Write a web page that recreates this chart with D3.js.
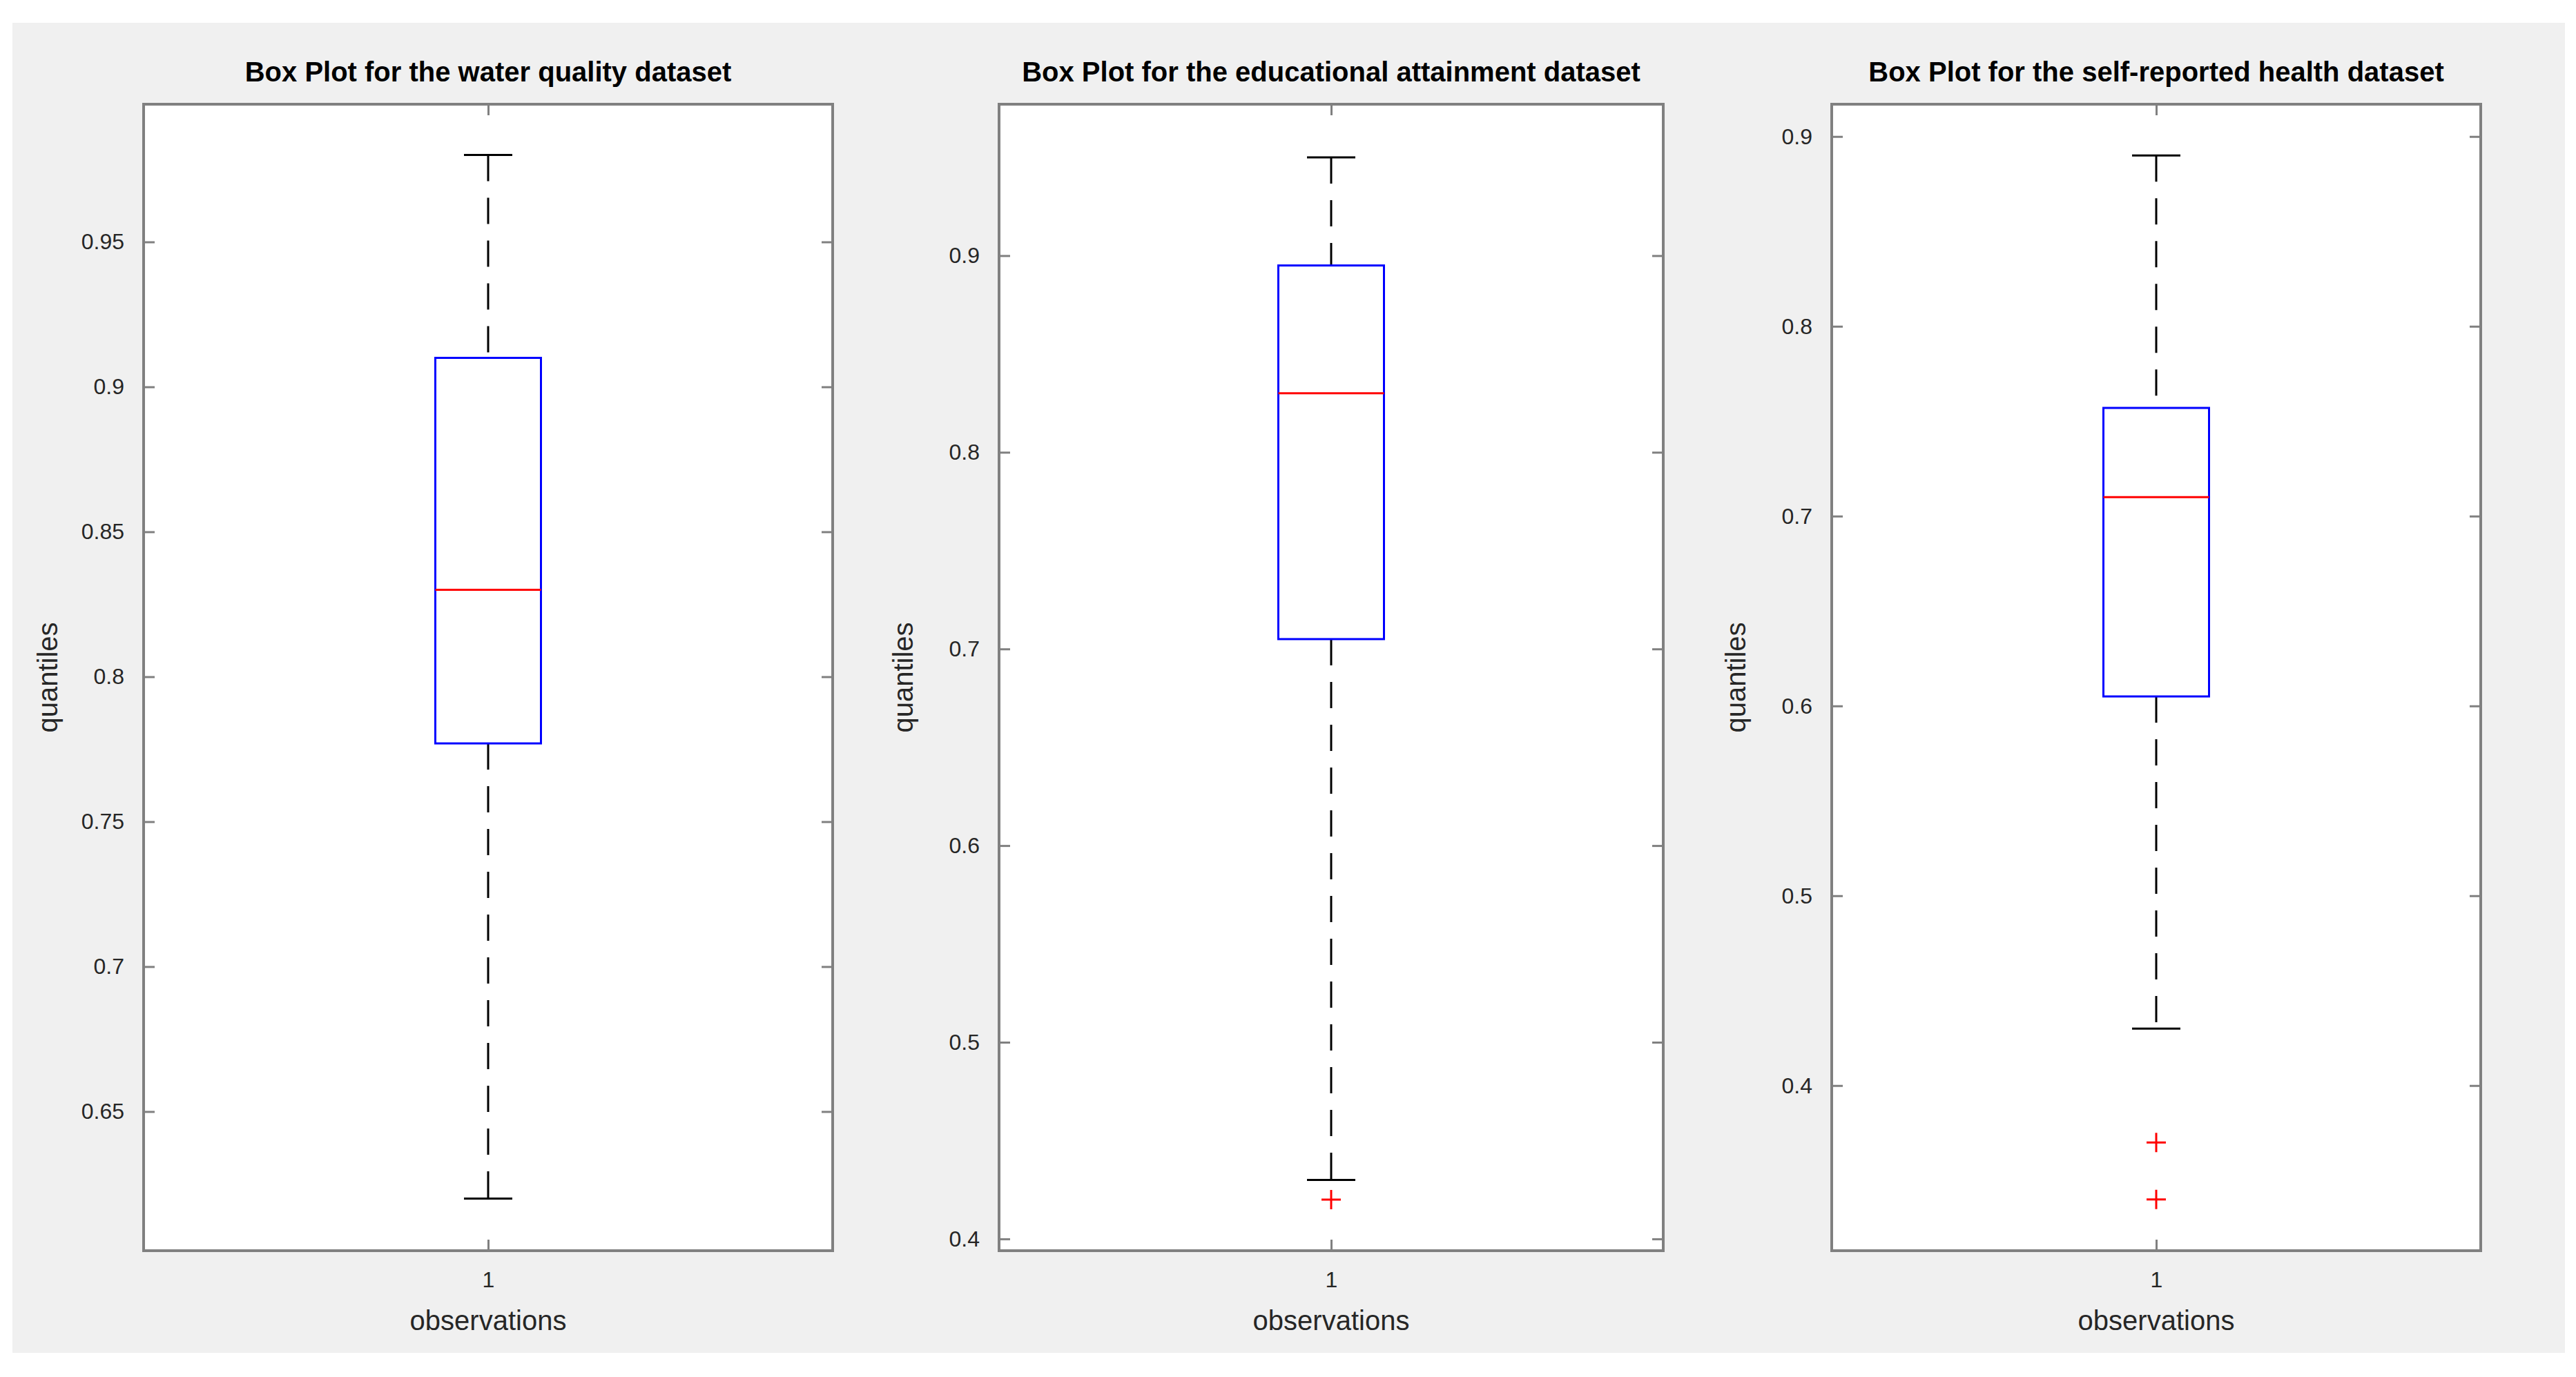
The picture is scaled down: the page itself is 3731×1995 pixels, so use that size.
<!DOCTYPE html><html><head><meta charset="utf-8"><script src="https://cdn.jsdelivr.net/npm/d3@7"></script>
<style>body{margin:0;background:#fff}svg{display:block}</style></head><body><svg id="c" width="3731" height="1995"></svg>
<script>
const titles=["Box Plot for the water quality dataset","Box Plot for the educational attainment dataset","Box Plot for the self-reported health dataset"];
const lowerWhisker=[0.62,0.43,0.43];
const q1=[0.777,0.705,0.605];
const median=[0.83,0.83,0.71];
const q3=[0.91,0.895,0.757];
const upperWhisker=[0.98,0.95,0.89];
const outliers=[[],[0.42],[0.37,0.34]];
const yDomains=[[0.602,0.9975],[0.394,0.977],[0.313,0.917]];
const yTicks=[[0.65,0.7,0.75,0.8,0.85,0.9,0.95],[0.4,0.5,0.6,0.7,0.8,0.9],[0.4,0.5,0.6,0.7,0.8,0.9]];
const xCats=["1"];
(function(){
const panels=[[208,1206],[1447,2409],[2653,3593]];
const yTop=151,yBot=1812;
const svg=d3.select("#c");
svg.append("rect").attr("x",18).attr("y",33).attr("width",3697).attr("height",1927).attr("fill","#f0f0f0");
const ax="#808080",font="'Liberation Sans',Arial,sans-serif";
panels.forEach((p,i)=>{
  const x=d3.scalePoint().domain(xCats).range(p).padding(0.5);
  const y=d3.scaleLinear().domain(yDomains[i]).range([yBot,yTop]);
  const g=svg.append("g");
  g.append("rect").attr("x",p[0]).attr("y",yTop).attr("width",p[1]-p[0]).attr("height",yBot-yTop).attr("fill","#fff");
  const fmt=d=>String(+d.toFixed(2));
  const la=g.append("g").attr("transform",`translate(${p[0]},0)`).call(d3.axisLeft(y).tickValues(yTicks[i]).tickSize(-16).tickPadding(28).tickFormat(fmt));
  const ra=g.append("g").attr("transform",`translate(${p[1]},0)`).call(d3.axisRight(y).tickValues(yTicks[i]).tickSize(-16).tickFormat(""));
  const ba=g.append("g").attr("transform",`translate(0,${yBot})`).call(d3.axisBottom(x).tickSize(-16).tickPadding(30));
  const ta=g.append("g").attr("transform",`translate(0,${yTop})`).call(d3.axisTop(x).tickSize(-16).tickFormat(""));
  [la,ra,ba,ta].forEach(a=>{a.select(".domain").remove();a.selectAll("line").attr("stroke",ax).attr("stroke-width",3);
    a.selectAll("text").attr("font-family",font).attr("font-size",32).attr("fill","#262626");});
  g.append("rect").attr("x",p[0]).attr("y",yTop).attr("width",p[1]-p[0]).attr("height",yBot-yTop).attr("fill","none").attr("stroke",ax).attr("stroke-width",4);
  const cx=x("1"),bw=153,cw=70;
  g.append("line").attr("x1",cx).attr("x2",cx).attr("y1",y(upperWhisker[i])).attr("y2",y(q3[i])).attr("stroke","#000").attr("stroke-width",3).attr("stroke-dasharray","38,24");
  g.append("line").attr("x1",cx).attr("x2",cx).attr("y1",y(q1[i])).attr("y2",y(lowerWhisker[i])).attr("stroke","#000").attr("stroke-width",3).attr("stroke-dasharray","38,24");
  [upperWhisker[i],lowerWhisker[i]].forEach(v=>g.append("line").attr("x1",cx-cw/2).attr("x2",cx+cw/2).attr("y1",y(v)).attr("y2",y(v)).attr("stroke","#000").attr("stroke-width",3));
  g.append("rect").attr("x",cx-bw/2).attr("y",y(q3[i])).attr("width",bw).attr("height",y(q1[i])-y(q3[i])).attr("fill","none").attr("stroke","#0000ff").attr("stroke-width",3);
  g.append("line").attr("x1",cx-bw/2).attr("x2",cx+bw/2).attr("y1",y(median[i])).attr("y2",y(median[i])).attr("stroke","#ff0000").attr("stroke-width",3);
  outliers[i].forEach(v=>{g.append("path").attr("d",`M${cx-14},${y(v)}H${cx+14}M${cx},${y(v)-14}V${y(v)+14}`).attr("stroke","#ff0000").attr("stroke-width",3);});
  const mid=(p[0]+p[1])/2;
  g.append("text").attr("x",mid).attr("y",118).attr("text-anchor","middle").attr("font-family",font).attr("font-weight","bold").attr("font-size",40).attr("fill","#000").text(titles[i]);
  g.append("text").attr("x",mid).attr("y",1927).attr("text-anchor","middle").attr("font-family",font).attr("font-size",40).attr("fill","#262626").text("observations");
  g.append("text").attr("transform",`translate(${p[0]-125},${(yTop+yBot)/2}) rotate(-90)`).attr("text-anchor","middle").attr("font-family",font).attr("font-size",40).attr("fill","#262626").text("quantiles");
});
})();
</script></body></html>
